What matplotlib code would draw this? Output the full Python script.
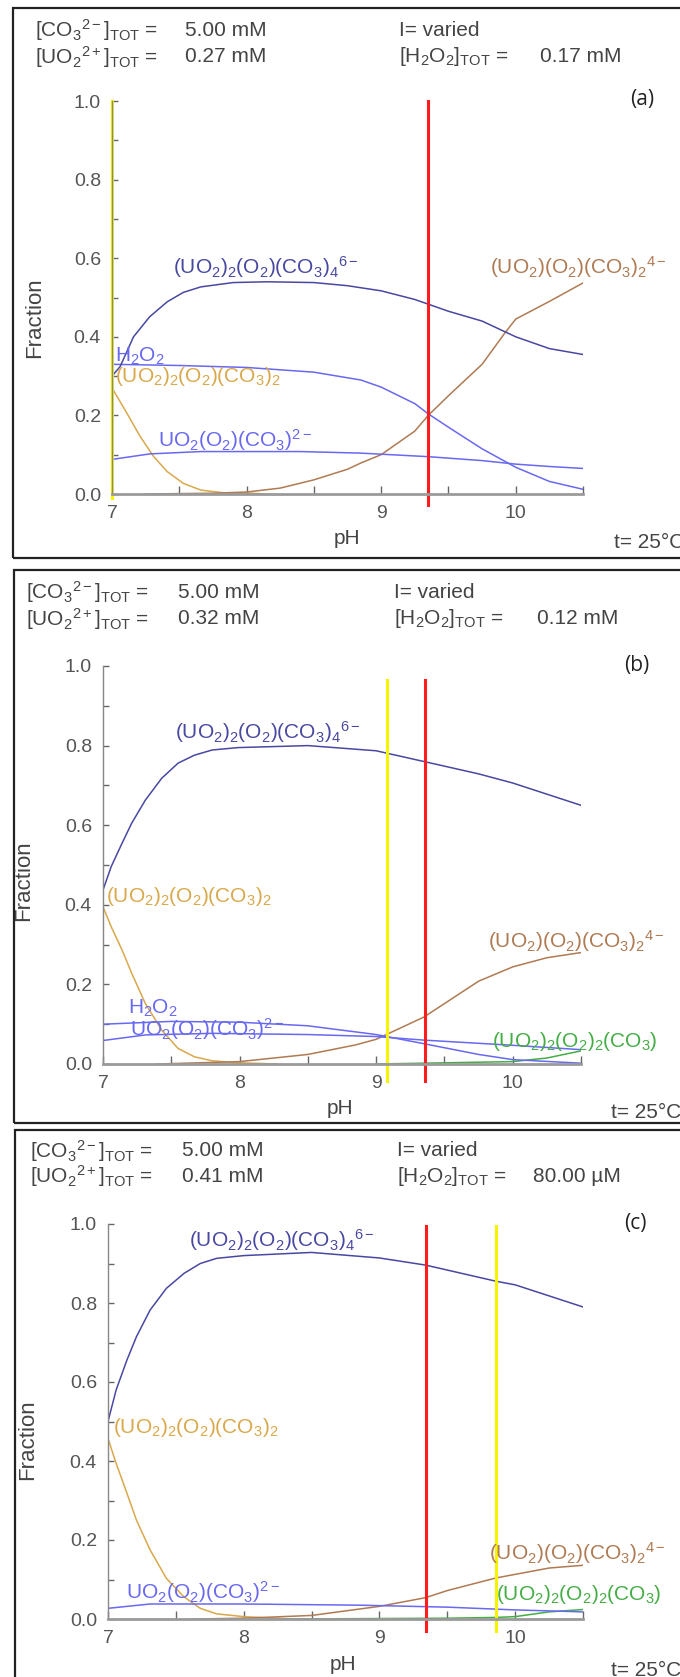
import matplotlib
matplotlib.use("Agg")
import matplotlib.pyplot as plt
from matplotlib.patches import Rectangle

plt.rcParams['font.family'] = ['Liberation Sans', 'DejaVu Sans']
plt.rcParams['mathtext.fontset'] = 'custom'
plt.rcParams['mathtext.rm'] = 'Liberation Sans'
plt.rcParams['mathtext.it'] = 'Liberation Sans:italic'
plt.rcParams['mathtext.bf'] = 'Liberation Sans:bold'

W, H = 680, 1677

# ---- data ----
# species labels
lab_dimer6 = r'$\mathrm{(UO_2)_2(O_2)(CO_3)_4{}^{6-}}$'
lab_mono4 = r'$\mathrm{(UO_2)(O_2)(CO_3)_2{}^{4-}}$'
lab_dimer0 = r'$\mathrm{(UO_2)_2(O_2)(CO_3)_2}$'
lab_mono2 = r'$\mathrm{UO_2(O_2)(CO_3)^{2-}}$'
lab_h2o2 = r'$\mathrm{H_2O_2}$'
lab_green = r'$\mathrm{(UO_2)_2(O_2)_2(CO_3)}$'

# panel (a)
a_ph_d6 = [7.0, 7.06, 7.16, 7.28, 7.41, 7.53, 7.66, 7.9, 8.15, 8.5, 8.75, 9.0, 9.25, 9.5, 9.75, 10.0, 10.25, 10.5]
a_fr_d6 = [0.30, 0.324, 0.40, 0.451, 0.489, 0.513, 0.527, 0.538, 0.54, 0.538, 0.53, 0.517, 0.495, 0.465, 0.44, 0.40, 0.37, 0.355]
a_ph_h2o2 = [7.0, 7.5, 8.0, 8.5, 8.85, 9.0, 9.25, 9.35, 9.5, 9.75, 10.0, 10.25, 10.5]
a_fr_h2o2 = [0.33, 0.327, 0.322, 0.31, 0.29, 0.272, 0.23, 0.204, 0.17, 0.115, 0.068, 0.032, 0.012]
a_ph_m2 = [7.0, 7.28, 7.66, 8.4, 8.85, 9.35, 9.75, 10.0, 10.25, 10.5]
a_fr_m2 = [0.088, 0.102, 0.108, 0.108, 0.104, 0.095, 0.085, 0.076, 0.07, 0.065]
a_ph_d0 = [7.0, 7.11, 7.21, 7.31, 7.41, 7.53, 7.66, 7.83, 8.03, 8.15]
a_fr_d0 = [0.27, 0.206, 0.146, 0.095, 0.057, 0.027, 0.01, 0.003, 0.002, 0.0]
a_ph_m4 = [7.25, 7.75, 8.0, 8.25, 8.5, 8.75, 8.85, 9.0, 9.25, 9.35, 9.5, 9.75, 9.92, 10.0, 10.25, 10.5]
a_fr_m4 = [0.0, 0.002, 0.005, 0.015, 0.036, 0.063, 0.079, 0.10, 0.16, 0.20, 0.25, 0.33, 0.41, 0.445, 0.49, 0.537]
a_lines = {'yellow': 7.0, 'red': 9.35}

# panel (b)
b_ph_d6 = [7.0, 7.06, 7.14, 7.21, 7.31, 7.43, 7.55, 7.67, 7.8, 7.99, 8.5, 9.0, 9.35, 9.75, 10.0, 10.5]
b_fr_d6 = [0.437, 0.496, 0.555, 0.605, 0.663, 0.718, 0.756, 0.776, 0.789, 0.795, 0.80, 0.787, 0.76, 0.729, 0.706, 0.65]
b_ph_h2o2 = [7.0, 7.5, 8.0, 8.5, 9.0, 9.35, 9.75, 10.0, 10.5]
b_fr_h2o2 = [0.10, 0.107, 0.105, 0.096, 0.074, 0.051, 0.024, 0.011, 0.002]
b_ph_m2 = [7.0, 7.31, 7.8, 8.5, 9.0, 9.35, 10.0, 10.5]
b_fr_m2 = [0.059, 0.073, 0.077, 0.074, 0.069, 0.06, 0.047, 0.036]
b_ph_d0 = [7.0, 7.06, 7.14, 7.21, 7.31, 7.43, 7.55, 7.67, 7.8, 8.0, 8.28]
b_fr_d0 = [0.395, 0.345, 0.286, 0.228, 0.152, 0.085, 0.039, 0.018, 0.008, 0.003, 0.0]
b_ph_m4 = [7.4, 8.0, 8.5, 8.85, 9.0, 9.35, 9.75, 10.0, 10.25, 10.5]
b_fr_m4 = [0.0, 0.006, 0.024, 0.048, 0.062, 0.118, 0.208, 0.244, 0.267, 0.28]
b_ph_gr = [9.0, 9.5, 10.0, 10.25, 10.5]
b_fr_gr = [0.0, 0.003, 0.006, 0.015, 0.033]
b_lines = {'yellow': 9.08, 'red': 9.36}

# panel (c)
c_ph_d6 = [7.0, 7.06, 7.14, 7.21, 7.31, 7.43, 7.56, 7.68, 7.8, 8.0, 8.5, 9.0, 9.34, 9.86, 10.0, 10.5]
c_fr_d6 = [0.50, 0.58, 0.656, 0.715, 0.782, 0.837, 0.875, 0.90, 0.913, 0.92, 0.928, 0.914, 0.896, 0.855, 0.846, 0.79]
c_ph_m2 = [7.0, 7.31, 8.0, 8.85, 9.5, 10.0, 10.5]
c_fr_m2 = [0.027, 0.038, 0.038, 0.035, 0.03, 0.023, 0.018]
c_ph_d0 = [7.0, 7.06, 7.14, 7.21, 7.31, 7.43, 7.56, 7.68, 7.8, 8.0, 8.17, 8.35]
c_fr_d0 = [0.457, 0.394, 0.318, 0.25, 0.175, 0.103, 0.056, 0.027, 0.013, 0.006, 0.003, 0.0]
c_ph_m4 = [7.63, 8.0, 8.5, 9.0, 9.34, 9.5, 9.86, 10.0, 10.25, 10.5]
c_fr_m4 = [0.0, 0.002, 0.009, 0.032, 0.054, 0.072, 0.104, 0.113, 0.129, 0.136]
c_ph_gr = [8.3, 9.5, 9.86, 10.0, 10.25, 10.5]
c_fr_gr = [0.0, 0.002, 0.004, 0.006, 0.018, 0.024]
c_lines = {'red': 9.34, 'yellow': 9.86}

headers = [
    ('5.00 mM', '0.27 mM', '0.17 mM'),
    ('5.00 mM', '0.32 mM', '0.12 mM'),
    ('5.00 mM', '0.41 mM', '80.00 µM'),
]

# colours
DARK = '#4848a2'
BLUE = '#6868f2'
GOLD = '#d9a84a'
BROWN = '#b07a52'
GREEN = '#44ad44'
RED = '#ff1c1c'
YEL = '#f8f400'
GREY = '#555555'
TXT = '#444444'

FS_HEAD = 15
FS_TICK = 14
FS_LAB = 15


def fx(x):
    return x / W


def fy(y):
    return 1 - y / H


fig = plt.figure(figsize=(W / 100, H / 100), dpi=100)

# pixel layout of each panel
panels = [
    dict(box=(13, 8, 558), ax=(112, 583, 101, 494), hx=(35, 185, 399, 540), hy=(30, 57),
         letter='(a)', lpos=(642, 100), frac=(35, 318), ph=(347, 538), t=(614, 543)),
    dict(box=(14, 570, 1123), ax=(103, 581, 666, 1064), hx=(26, 178, 394, 537), hy=(592, 619),
         letter='(b)', lpos=(637, 665), frac=(24, 881), ph=(340, 1108), t=(611, 1112)),
    dict(box=(15, 1130, 1700), ax=(108, 583, 1224, 1619), hx=(30, 182, 397, 533), hy=(1151, 1176),
         letter='(c)', lpos=(635, 1224), frac=(28, 1440), ph=(343, 1665), t=(611, 1670)),
]

axes = []
for i, p in enumerate(panels):
    bl, bt, bb = p['box']
    fig.patches.append(Rectangle((fx(bl), fy(bb)), fx(W + 20 - bl), fy(bt) - fy(bb),
                                 transform=fig.transFigure, fill=False,
                                 edgecolor='#222222', linewidth=1.6, clip_on=False))
    x0, x1, ytop, ybot = p['ax']
    ax = fig.add_axes([fx(x0), fy(ybot), fx(x1 - x0), (ybot - ytop) / H])
    ax.set_xlim(7, 10.5)
    ax.set_ylim(0, 1)
    ax.patch.set_alpha(0)
    for s in ['top', 'right']:
        ax.spines[s].set_visible(False)
    ax.spines['left'].set_color('#888888')
    ax.spines['left'].set_linewidth(1.0)
    ax.spines['bottom'].set_color('#9a9a9a')
    ax.spines['bottom'].set_linewidth(2.0)
    ax.set_xticks([7, 8, 9, 10])
    ax.set_xticks([7.5, 8.5, 9.5, 10.5], minor=True)
    ax.set_yticks([0, 0.2, 0.4, 0.6, 0.8, 1.0])
    ax.set_yticks([0.1, 0.3, 0.5, 0.7, 0.9], minor=True)
    ax.set_yticklabels(['0.0', '0.2', '0.4', '0.6', '0.8', '1.0'])
    ax.tick_params(axis='x', which='both', direction='in', length=6, width=1, color='#666666',
                   labelsize=FS_TICK, labelcolor=GREY, pad=8)
    ax.tick_params(axis='y', which='both', direction='in', length=4, width=1, color='#666666',
                   labelsize=FS_TICK, labelcolor=GREY, pad=8)
    axes.append(ax)

    # header
    hx0, hx1, hx2, hx3 = p['hx']
    hy1, hy2 = p['hy']
    v1, v2, v3 = headers[i]
    fig.text(fx(hx0), fy(hy1), r'$\mathrm{[CO_3{}^{2-}]_{TOT}}$ =', fontsize=FS_HEAD, color=TXT, va='center')
    fig.text(fx(hx1), fy(hy1), v1, fontsize=FS_HEAD, color=TXT, va='center')
    fig.text(fx(hx0), fy(hy2), r'$\mathrm{[UO_2{}^{2+}]_{TOT}}$ =', fontsize=FS_HEAD, color=TXT, va='center')
    fig.text(fx(hx1), fy(hy2), v2, fontsize=FS_HEAD, color=TXT, va='center')
    fig.text(fx(hx2), fy(hy1), 'I= varied', fontsize=FS_HEAD, color=TXT, va='center')
    fig.text(fx(hx2), fy(hy2), r'$\mathrm{[H_2O_2]_{TOT}}$ =', fontsize=FS_HEAD, color=TXT, va='center')
    fig.text(fx(hx3), fy(hy2), v3, fontsize=FS_HEAD, color=TXT, va='center')

    fig.text(fx(p['lpos'][0]), fy(p['lpos'][1]), p['letter'], fontsize=15, color='#222222',
             ha='center', va='center', family=['Open Sans', 'DejaVu Sans'])
    fig.text(fx(p['frac'][0]), fy(p['frac'][1]), 'Fraction', fontsize=16, color=TXT,
             rotation=90, ha='center', va='center')
    fig.text(fx(p['ph'][0]), fy(p['ph'][1]), 'pH', fontsize=15, color=TXT,
             ha='center', va='center')
    fig.text(fx(p['t'][0]), fy(p['t'][1]), 't= 25°C', fontsize=15, color=TXT,
             ha='left', va='center')

lw = 1.1
ax_a, ax_b, ax_c = axes

# panel (a)
ax_a.plot(a_ph_d0, a_fr_d0, color=GOLD, lw=lw)
ax_a.plot(a_ph_m4, a_fr_m4, color=BROWN, lw=lw)
ax_a.plot(a_ph_m2, a_fr_m2, color=BLUE, lw=lw)
ax_a.plot(a_ph_h2o2, a_fr_h2o2, color=BLUE, lw=lw)
ax_a.plot(a_ph_d6, a_fr_d6, color=DARK, lw=lw)
ax_a.plot([a_lines['yellow']] * 2, [-0.01, 1.0], color=YEL, lw=2.2, clip_on=False)
ax_a.plot([a_lines['red']] * 2, [-0.027, 1.0], color=RED, lw=2.2, clip_on=False)
ax_a.text(7.45, 0.578, lab_dimer6, color=DARK, fontsize=FS_LAB, va='center')
ax_a.text(9.81, 0.578, lab_mono4, color=BROWN, fontsize=FS_LAB, va='center')
ax_a.text(7.02, 0.35, lab_h2o2, color=BLUE, fontsize=FS_LAB, va='center')
ax_a.text(7.02, 0.30, lab_dimer0, color=GOLD, fontsize=FS_LAB, va='center')
ax_a.text(7.34, 0.138, lab_mono2, color=BLUE, fontsize=FS_LAB, va='center')

# panel (b)
ax_b.plot(b_ph_d0, b_fr_d0, color=GOLD, lw=lw)
ax_b.plot(b_ph_m4, b_fr_m4, color=BROWN, lw=lw)
ax_b.plot(b_ph_gr, b_fr_gr, color=GREEN, lw=lw)
ax_b.plot(b_ph_m2, b_fr_m2, color=BLUE, lw=lw)
ax_b.plot(b_ph_h2o2, b_fr_h2o2, color=BLUE, lw=lw)
ax_b.plot(b_ph_d6, b_fr_d6, color=DARK, lw=lw)
ax_b.plot([b_lines['yellow']] * 2, [-0.043, 0.965], color=YEL, lw=2.2, clip_on=False)
ax_b.plot([b_lines['red']] * 2, [-0.043, 0.965], color=RED, lw=2.2, clip_on=False)
ax_b.text(7.53, 0.835, lab_dimer6, color=DARK, fontsize=FS_LAB, va='center')
ax_b.text(7.02, 0.42, lab_dimer0, color=GOLD, fontsize=FS_LAB, va='center')
ax_b.text(9.82, 0.31, lab_mono4, color=BROWN, fontsize=FS_LAB, va='center')
ax_b.text(7.18, 0.14, lab_h2o2, color=BLUE, fontsize=FS_LAB, va='center')
ax_b.text(7.2, 0.088, lab_mono2, color=BLUE, fontsize=FS_LAB, va='center')
ax_b.text(9.85, 0.056, lab_green, color=GREEN, fontsize=FS_LAB, va='center')

# panel (c)
ax_c.plot(c_ph_d0, c_fr_d0, color=GOLD, lw=lw)
ax_c.plot(c_ph_m4, c_fr_m4, color=BROWN, lw=lw)
ax_c.plot(c_ph_gr, c_fr_gr, color=GREEN, lw=lw)
ax_c.plot(c_ph_m2, c_fr_m2, color=BLUE, lw=lw)
ax_c.plot(c_ph_d6, c_fr_d6, color=DARK, lw=lw)
ax_c.plot([c_lines['red']] * 2, [-0.03, 0.995], color=RED, lw=2.2, clip_on=False)
ax_c.plot([c_lines['yellow']] * 2, [-0.03, 0.995], color=YEL, lw=2.2, clip_on=False)
ax_c.text(7.6, 0.96, lab_dimer6, color=DARK, fontsize=FS_LAB, va='center')
ax_c.text(7.04, 0.484, lab_dimer0, color=GOLD, fontsize=FS_LAB, va='center')
ax_c.text(9.81, 0.167, lab_mono4, color=BROWN, fontsize=FS_LAB, va='center')
ax_c.text(9.86, 0.063, lab_green, color=GREEN, fontsize=FS_LAB, va='center')
ax_c.text(7.13, 0.068, lab_mono2, color=BLUE, fontsize=FS_LAB, va='center')

fig.savefig('out.png', dpi=100)
